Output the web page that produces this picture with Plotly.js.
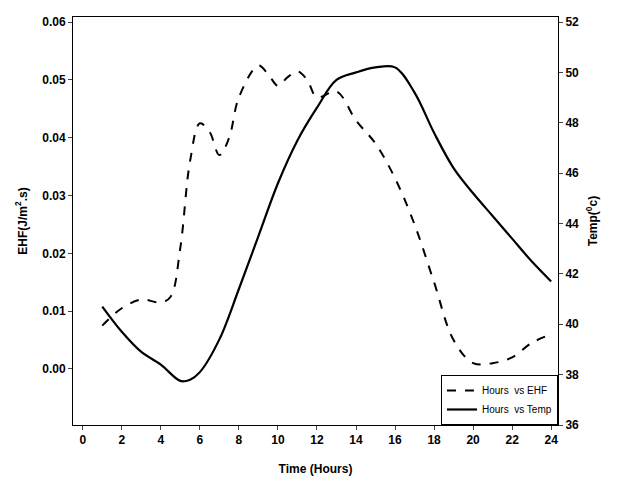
<!DOCTYPE html>
<html><head><script src="https://cdn.plot.ly/plotly-3.0.1.min.js"></script></head>
<body style="margin:0"><div id="plot" style="width:619px;height:495px"></div>
<script>
const ehfHours = [1, 2, 3, 4, 4.5, 5, 5.5, 6, 6.5, 7, 7.5, 8, 9, 9.5, 10, 10.5, 11, 11.5, 12, 13, 14, 15, 16, 17, 18, 19, 20, 21, 22, 23, 24];
const ehfValues = [0.0075, 0.0105, 0.012, 0.0115, 0.0125, 0.021, 0.036, 0.0425, 0.041, 0.037, 0.040, 0.047, 0.0525, 0.051, 0.049, 0.0505, 0.0515, 0.050, 0.047, 0.048, 0.043, 0.039, 0.033, 0.025, 0.015, 0.005, 0.001, 0.001, 0.002, 0.0045, 0.006];
const tempHours = [1, 2, 3, 4, 5, 5.5, 6, 7, 8, 9, 10, 11, 12, 13, 14, 15, 16, 17, 18, 19, 20, 21, 22, 23, 24];
const tempValues = [40.7, 39.7, 38.9, 38.4, 37.75, 37.8, 38.1, 39.4, 41.4, 43.5, 45.6, 47.3, 48.6, 49.7, 50.0, 50.2, 50.2, 49.2, 47.6, 46.2, 45.2, 44.3, 43.4, 42.5, 41.7];
const ehfTicks = [0, 0.01, 0.02, 0.03, 0.04, 0.05, 0.06];

const font = { family: "Liberation Sans, Arial", size: 12, color: "#000" };
const ehfTrace = {
  x: ehfHours, y: ehfValues, type: "scatter", mode: "lines",
  line: { color: "#000", width: 2, dash: "dash", shape: "spline" },
  name: "Hours  vs EHF",
};
const tempTrace = {
  x: tempHours, y: tempValues, type: "scatter", mode: "lines", yaxis: "y2",
  line: { color: "#000", width: 2.2, shape: "spline" },
  name: "Hours  vs Temp",
};

Plotly.newPlot("plot", [ehfTrace, tempTrace], {
  width: 619, height: 495,
  paper_bgcolor: "#fff", plot_bgcolor: "#fff",
  margin: { l: 73, r: 61, t: 17, b: 70 },
  font: { family: "Liberation Sans, Arial", size: 12, color: "#000" },
  showlegend: true,
  legend: {
    x: 1, y: 0, xanchor: "right", yanchor: "bottom",
    bordercolor: "#000", borderwidth: 1, bgcolor: "#fff",
    font: { family: "Liberation Sans, Arial", size: 10 },
  },
  xaxis: {
    range: [-0.5, 24.35], tickvals: [0, 2, 4, 6, 8, 10, 12, 14, 16, 18, 20, 22, 24],
    showgrid: false, zeroline: false,
    showline: true, mirror: true, linecolor: "#000", linewidth: 1,
    ticks: "outside", ticklen: 4, tickfont: { ...font, weight: "bold" },
    title: { text: "<b>Time (Hours)</b>", font: font, standoff: 18 },
  },
  yaxis: {
    range: [-0.0097, 0.0609], tickvals: ehfTicks, tickformat: ".2f", showgrid: false, zeroline: false,
    showline: true, linecolor: "#000", ticks: "outside", ticklen: 4,
    tickfont: { ...font, weight: "bold" },
    title: { text: "<b>EHF(J/m<sup>2</sup>.s)</b>", font: font, standoff: 12 },
  },
  yaxis2: {
    range: [36, 52.2], dtick: 2, overlaying: "y", side: "right", showgrid: false, zeroline: false,
    showline: true, linecolor: "#000", ticks: "outside", ticklen: 4,
    tickfont: { ...font, weight: "bold" },
    title: { text: "<b>Temp(<sup>0</sup>c)</b>", font: font, standoff: 10 },
  },
}, { displayModeBar: false });
</script></body></html>
